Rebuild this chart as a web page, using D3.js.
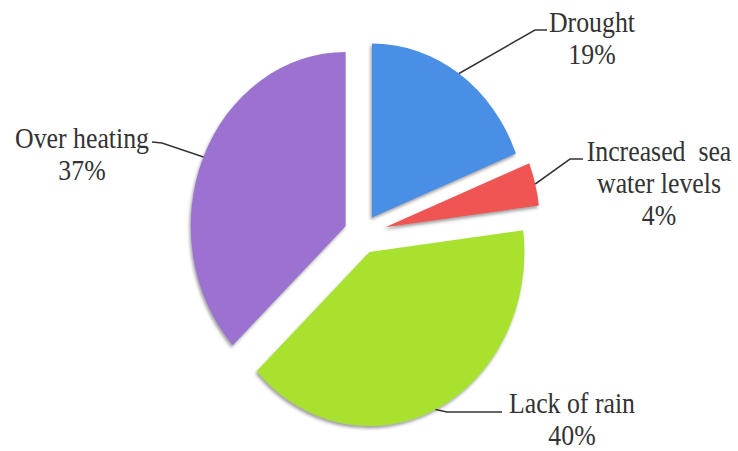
<!DOCTYPE html>
<html>
<head>
<meta charset="utf-8">
<script src="https://cdn.jsdelivr.net/npm/d3@7"></script>
<style>
  html, body { margin: 0; padding: 0; background: #ffffff; }
  svg { display: block; }
</style>
</head>
<body>
<svg id="chart" width="738" height="451"></svg>
<script>
// Causes of climate stress, share of responses (%)
const categories = ["Drought", "Increased  sea water levels", "Lack of rain", "Over heating"];
const values = [19, 4, 40, 37];
const labelLines = [["Drought", "19%"], ["Increased  sea", "water levels", "4%"], ["Lack of rain", "40%"], ["Over heating", "37%"]];
const colors = ["#4a8fe6", "#f05552", "#a8e22e", "#9b72cf"];
const explode = [20, 27, 20, 20];

const W = 738, H = 451;
const squeeze = 0.89;           // horizontal aspect of the whole drawing
const cx = 406.7, cy = 234, R = 174;

const svg = d3.select("#chart");

const defs = svg.append("defs");
const f = defs.append("filter").attr("id", "shadow")
  .attr("x", "-20%").attr("y", "-20%").attr("width", "140%").attr("height", "140%");
f.append("feDropShadow")
  .attr("dx", -1.5).attr("dy", 2.5).attr("stdDeviation", 1.6)
  .attr("flood-color", "#7a7a7a").attr("flood-opacity", 0.7);

const root = svg.append("g").attr("transform", `scale(${squeeze},1)`);

const pie = d3.pie().sort(null).value(d => d)(values);
const arc = d3.arc().innerRadius(0).outerRadius(R);

const mid = d => (d.startAngle + d.endAngle) / 2;
const dir = a => [Math.sin(a), -Math.cos(a)];

const pieG = root.append("g").attr("transform", `translate(${cx},${cy})`);

pieG.selectAll("path.slice")
  .data(pie)
  .join("path")
  .attr("class", "slice")
  .attr("transform", (d, i) => {
    const [ux, uy] = dir(mid(d));
    return `translate(${ux * explode[i]},${uy * explode[i]})`;
  })
  .attr("d", arc)
  .attr("fill", (d, i) => colors[i])
  .attr("filter", "url(#shadow)");

// label placement (image-space x, converted into the squeezed frame)
const sx = x => x / squeeze;
const labelPos = [
  { x: 592, y: 32, elbow: [[535, 30], [547, 30]] },
  { x: 659, y: 161, elbow: [[570, 159], [583, 159]] },
  { x: 572, y: 413, elbow: [[447, 412], [502, 412]] },
  { x: 82, y: 148, elbow: [[162, 143], [152, 142]] }
];

// leader lines from each slice rim to its label
const line = d3.line();
root.selectAll("path.leader")
  .data(pie)
  .join("path")
  .attr("class", "leader")
  .attr("d", (d, i) => {
    const [ux, uy] = dir(mid(d));
    const r = R + explode[i];
    const start = [cx + ux * r, cy + uy * r];
    const pts = [start].concat(labelPos[i].elbow.map(p => [sx(p[0]), p[1]]));
    return line(pts);
  })
  .attr("fill", "none")
  .attr("stroke", "#333333")
  .attr("stroke-width", 1.6);

const lineH = 32;
root.selectAll("text.lbl")
  .data(pie)
  .join("text")
  .attr("class", "lbl")
  .attr("font-family", "'Liberation Serif', 'DejaVu Serif', serif")
  .attr("font-size", 29)
  .attr("fill", "#333333")
  .attr("text-anchor", "middle")
  .attr("x", (d, i) => sx(labelPos[i].x))
  .attr("y", (d, i) => labelPos[i].y)
  .each(function (d, i) {
    const t = d3.select(this);
    labelLines[i].forEach((s, k) => {
      t.append("tspan")
        .attr("x", sx(labelPos[i].x))
        .attr("dy", k === 0 ? 0 : lineH)
        .attr("xml:space", "preserve")
        .style("white-space", "pre")
        .text(s);
    });
  });
</script>
</body>
</html>
